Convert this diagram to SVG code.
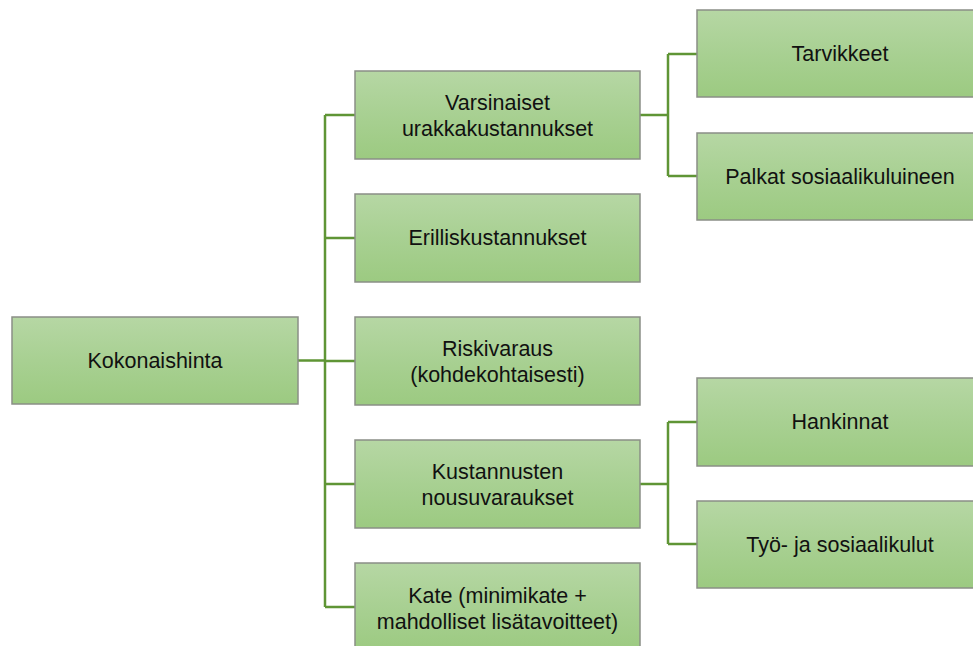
<svg xmlns="http://www.w3.org/2000/svg" width="973" height="646" viewBox="0 0 973 646">
<defs>
<linearGradient id="g" x1="0" y1="0" x2="0" y2="1">
<stop offset="0" stop-color="#b6d7a4"/>
<stop offset="0.5" stop-color="#a8d092"/>
<stop offset="1" stop-color="#9cca81"/>
</linearGradient>
</defs>
<style>
.box{fill:url(#g);stroke:#8a8f86;stroke-width:1.5}
.t{font-family:"Liberation Sans",Arial,sans-serif;font-size:21.5px;fill:#111;text-anchor:middle}
.c{fill:none;stroke:#5f9535;stroke-width:2.5}
</style>
<rect width="973" height="646" fill="#fff"/>
<g id="connectors">
<path class="c" d="M298 360.5H325M325 115V607M325 115H355M325 238H355M325 361H355M325 484H355M325 607H355"/>
<path class="c" d="M640 115H668M668 54V176M668 54H697M668 176H697"/>
<path class="c" d="M640 484H668M668 422V544M668 422H697M668 544H697"/>
</g>
<g id="n-kokonaishinta"><rect class="box" x="12" y="317" width="286" height="87"/><text class="t" x="155" y="368">Kokonaishinta</text></g>
<g id="n-varsinaiset"><rect class="box" x="355" y="71" width="285" height="88"/><text class="t" x="497.5" y="110">Varsinaiset</text><text class="t" x="497.5" y="136">urakkakustannukset</text></g>
<g id="n-erillis"><rect class="box" x="355" y="194" width="285" height="88"/><text class="t" x="497.5" y="245">Erilliskustannukset</text></g>
<g id="n-riski"><rect class="box" x="355" y="317" width="285" height="88"/><text class="t" x="497.5" y="356">Riskivaraus</text><text class="t" x="497.5" y="382">(kohdekohtaisesti)</text></g>
<g id="n-kustannusten"><rect class="box" x="355" y="440" width="285" height="88"/><text class="t" x="497.5" y="479">Kustannusten</text><text class="t" x="497.5" y="505">nousuvaraukset</text></g>
<g id="n-kate"><rect class="box" x="355" y="563" width="285" height="88"/><text class="t" x="497.5" y="603">Kate (minimikate +</text><text class="t" x="497.5" y="629">mahdolliset lisätavoitteet)</text></g>
<g id="n-tarvikkeet"><rect class="box" x="697" y="10" width="286" height="87"/><text class="t" x="840" y="61">Tarvikkeet</text></g>
<g id="n-palkat"><rect class="box" x="697" y="133" width="286" height="87"/><text class="t" x="840" y="184">Palkat sosiaalikuluineen</text></g>
<g id="n-hankinnat"><rect class="box" x="697" y="378" width="286" height="88"/><text class="t" x="840" y="429">Hankinnat</text></g>
<g id="n-tyo"><rect class="box" x="697" y="501" width="286" height="87"/><text class="t" x="840" y="552">Työ- ja sosiaalikulut</text></g>
</svg>
